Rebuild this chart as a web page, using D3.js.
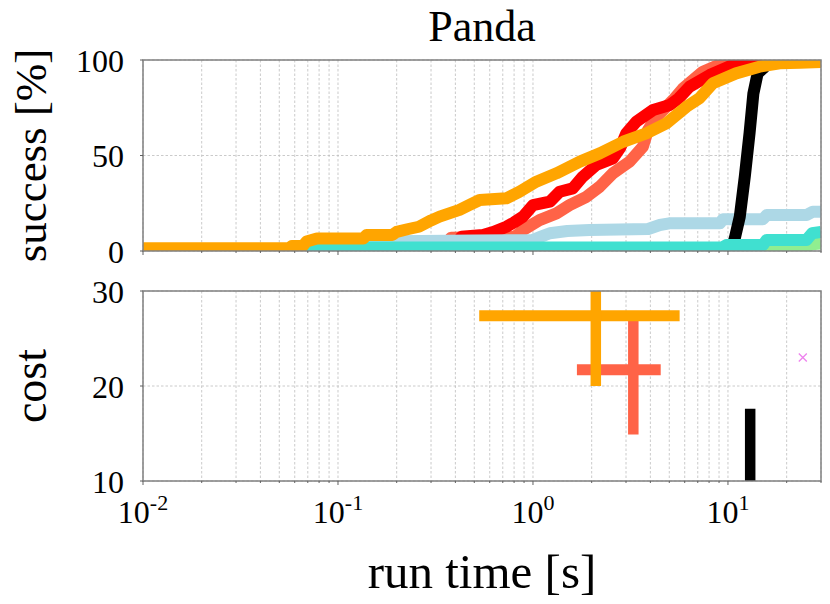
<!DOCTYPE html>
<html>
<head>
<meta charset="utf-8">
<script src="https://cdn.jsdelivr.net/npm/d3@7"></script>
<style>
  html, body { margin: 0; padding: 0; background: #fff; }
  svg { display: block; }
  text { font-family: "Liberation Serif", "DejaVu Serif", serif; fill: #000; }
</style>
</head>
<body>
<svg id="chart" width="830" height="604"></svg>
<script>
// ---------- data ----------
const xTickValues = [0.01, 0.1, 1, 10];
const xTickExponents = ["-2", "-1", "0", "1"];
const successTicks = [0, 50, 100];
const costTicks = [10, 20, 30];

// success curves (run time [s], success [%])
const lightgreenT = [0.01, 11, 12, 16, 25, 27, 30];
const lightgreenS = [0, 0, 0.5, 1, 2, 3.5, 4];

const tomatoT = [0.01, 0.1, 0.2, 0.3, 0.36, 0.38, 0.81, 0.889, 1.08, 1.32, 1.54, 1.88, 2.2, 2.57, 3.13, 3.66, 3.89, 4.3, 5.23, 5.87, 7.44, 9.4, 11, 30];
const tomatoS = [0, 1, 2, 3, 3.5, 7, 7.5, 11, 16.2, 19.7, 24, 28.4, 33.7, 40.7, 46.8, 54.6, 63.4, 70.3, 79, 85, 93.9, 98.3, 100, 100];

const redT = [0.01, 0.1, 0.2, 0.3, 0.4, 0.43, 0.554, 0.63, 0.73, 0.8, 0.889, 1.0, 1.22, 1.37, 1.6, 1.8, 2.11, 2.57, 2.8, 3.01, 3.39, 4.13, 5.03, 5.6, 6.35, 8.05, 10.6, 12.9, 14, 30];
const redS = [0, 1, 2, 3, 3.5, 7.5, 8.4, 10, 12.7, 15, 18, 24, 25.8, 31, 32.8, 38.9, 45, 48.5, 54, 61.6, 67.7, 73.8, 76.4, 80, 86, 92.1, 97.4, 99.5, 100, 100];

const lightblueT = [0.01, 0.075, 0.08, 0.1, 0.13, 0.14, 0.5, 1.0, 1.1, 1.22, 1.5, 1.95, 3.9, 4.47, 5, 9.1, 9.4, 15.1, 15.8, 25.3, 27.2, 30];
const lightblueS = [0, 0, 2, 3, 4, 5, 5.5, 5.8, 7.5, 9.3, 10.5, 11, 11.5, 13.6, 14.5, 14.5, 16.6, 16.6, 18.8, 18.8, 20.6, 20.6];

const blackT = [0.01, 10.2, 10.5, 10.8, 11.5, 12.2, 12.9, 13.5, 14.2, 15.1, 16, 17, 30];
const blackS = [0, 0, 3, 6, 18, 39, 61.6, 82.5, 93, 95.5, 98, 100, 100];

const turquoiseT = [0.01, 0.073, 0.076, 0.083, 9.4, 9.8, 15.1, 15.8, 25.3, 27, 30];
const turquoiseS = [0, 0, 1, 1.8, 2, 3.1, 3.1, 5.8, 5.8, 9.3, 10];

const orangeT = [0.01, 0.056, 0.058, 0.066, 0.069, 0.078, 0.135, 0.14, 0.19, 0.2, 0.23, 0.26, 0.3, 0.332, 0.42, 0.47, 0.533, 0.73, 0.85, 1.04, 1.32, 1.74, 2.2, 2.9, 3.81, 4.83, 6.12, 7.14, 8.37, 11, 14.5, 18.4, 23.4, 30];
const orangeS = [1.4, 1.4, 2.6, 2.6, 5, 6.6, 6.6, 8.4, 8.4, 10, 11.5, 12.7, 16, 18, 21.5, 24, 26.7, 27.6, 31, 36.3, 40.7, 46.8, 51.1, 57.2, 61.6, 66.8, 75.5, 80, 87.8, 93, 96.5, 98.3, 98.6, 99];

// drawing order: first is at the bottom
const curveColors = ["lightgreen", "tomato", "red", "lightblue", "black", "turquoise", "orange"];
const curveTimes = [lightgreenT, tomatoT, redT, lightblueT, blackT, turquoiseT, orangeT];
const curveSuccess = [lightgreenS, tomatoS, redS, lightblueS, blackS, turquoiseS, orangeS];

// cost error crosses
const crossColors = ["black", "tomato", "orange"];
const crossTimeMid = [13.0, 3.27, 2.1];
const crossTimeLo = [13.0, 1.68, 0.53];
const crossTimeHi = [13.0, 4.52, 5.65];
const crossCostMid = [13.0, 21.7, 27.4];
const crossCostLo = [8, 14.9, 20];
const crossCostHi = [17.6, 26.9, 31];

const markerColor = "violet";
const markerTime = [24.2];
const markerCost = [23];

// ---------- layout ----------
const svg = d3.select("#chart");
const left = 143, right = 821;
const top1 = 60, bot1 = 251;
const top2 = 291, bot2 = 481;

const x = d3.scaleLog().domain([0.01, 30]).range([left, right]);
const ySucc = d3.scaleLinear().domain([0, 100]).range([bot1, top1]);
const yCost = d3.scaleLinear().domain([10, 30]).range([bot2, top2]);

const minorTicks = [];
for (let e = -2; e <= 1; e++) {
  for (let m = 1; m <= 9; m++) {
    const v = m * Math.pow(10, e);
    if (v <= 30) minorTicks.push(v);
  }
}

const defs = svg.append("defs");
defs.append("clipPath").attr("id", "clip1").append("rect")
  .attr("x", left).attr("y", top1).attr("width", right - left).attr("height", bot1 - top1);
defs.append("clipPath").attr("id", "clip2").append("rect")
  .attr("x", left).attr("y", top2).attr("width", right - left).attr("height", bot2 - top2);

function panelGrid(yScale, yTicks, y0, y1) {
  const g = svg.append("g");
  g.selectAll("line.vg").data(minorTicks).enter().append("line")
    .attr("x1", d => x(d)).attr("x2", d => x(d))
    .attr("y1", y0).attr("y2", y1)
    .attr("stroke", "#bdbdbd").attr("stroke-width", 0.8)
    .attr("stroke-dasharray", "2.5,2");
  g.selectAll("line.hg").data(yTicks).enter().append("line")
    .attr("x1", left).attr("x2", right)
    .attr("y1", d => yScale(d)).attr("y2", d => yScale(d))
    .attr("stroke", "#bdbdbd").attr("stroke-width", 0.8)
    .attr("stroke-dasharray", "2.5,2");
}

function panelFrame(yScale, yTicks, y0, y1) {
  const g = svg.append("g");
  g.append("rect").attr("x", left).attr("y", y0)
    .attr("width", right - left).attr("height", y1 - y0)
    .attr("fill", "none").attr("stroke", "#808080").attr("stroke-width", 1.5);
  g.selectAll("line.mt").data(minorTicks).enter().append("line")
    .attr("x1", d => x(d)).attr("x2", d => x(d))
    .attr("y1", y1).attr("y2", d => xTickValues.includes(d) ? y1 + 4 : y1 + 2)
    .attr("stroke", "#606060").attr("stroke-width", 1);
  g.selectAll("line.yt").data(yTicks).enter().append("line")
    .attr("x1", left - 3).attr("x2", left)
    .attr("y1", d => yScale(d)).attr("y2", d => yScale(d))
    .attr("stroke", "#606060").attr("stroke-width", 1);
  g.selectAll("text.yl").data(yTicks).enter().append("text")
    .attr("x", 124).attr("y", d => yScale(d) + 11.5)
    .attr("text-anchor", "end").attr("font-size", 32)
    .text(d => d);
}

// ---------- top panel ----------
panelGrid(ySucc, successTicks, top1, bot1);
const line = d3.line().x(d => x(d[0])).y(d => ySucc(d[1]));
const cg = svg.append("g").attr("clip-path", "url(#clip1)");
curveColors.forEach((c, i) => {
  const pts = curveTimes[i].map((t, j) => [t, curveSuccess[i][j]]);
  cg.append("path").datum(pts)
    .attr("d", line)
    .attr("fill", "none").attr("stroke", c)
    .attr("stroke-width", 12)
    .attr("stroke-linejoin", "round").attr("stroke-linecap", "butt");
});
panelFrame(ySucc, successTicks, top1, bot1);

// ---------- bottom panel ----------
panelGrid(yCost, costTicks, top2, bot2);
const eg = svg.append("g").attr("clip-path", "url(#clip2)");
crossColors.forEach((c, i) => {
  if (crossTimeHi[i] > crossTimeLo[i]) {
    eg.append("line")
      .attr("x1", x(crossTimeLo[i])).attr("x2", x(crossTimeHi[i]))
      .attr("y1", yCost(crossCostMid[i])).attr("y2", yCost(crossCostMid[i]))
      .attr("stroke", c).attr("stroke-width", 11);
  }
  eg.append("line")
    .attr("x1", x(crossTimeMid[i])).attr("x2", x(crossTimeMid[i]))
    .attr("y1", yCost(crossCostLo[i])).attr("y2", yCost(crossCostHi[i]))
    .attr("stroke", c).attr("stroke-width", 10.5);
});
markerTime.forEach((t, i) => {
  const cx = x(t), cy = yCost(markerCost[i]), r = 4;
  eg.append("path")
    .attr("d", `M${cx - r},${cy - r}L${cx + r},${cy + r}M${cx - r},${cy + r}L${cx + r},${cy - r}`)
    .attr("stroke", markerColor).attr("stroke-width", 1.3).attr("fill", "none");
});
panelFrame(yCost, costTicks, top2, bot2);

// x tick labels
const xl = svg.append("g");
xTickValues.forEach((v, i) => {
  const t = xl.append("text").attr("x", x(v)).attr("y", 523)
    .attr("text-anchor", "middle").attr("font-size", 32);
  t.append("tspan").text("10");
  t.append("tspan").attr("font-size", 22).attr("dy", -13).text(xTickExponents[i]);
});

// titles and axis labels
svg.append("text").attr("x", (left + right) / 2).attr("y", 41)
  .attr("text-anchor", "middle").attr("font-size", 44).text("Panda");
svg.append("text").attr("x", (left + right) / 2).attr("y", 588)
  .attr("text-anchor", "middle").attr("font-size", 49).text("run time [s]");
svg.append("text")
  .attr("transform", `translate(46,${(top1 + bot1) / 2}) rotate(-90)`)
  .attr("text-anchor", "middle").attr("font-size", 45).text("success [%]");
svg.append("text")
  .attr("transform", `translate(46,${(top2 + bot2) / 2}) rotate(-90)`)
  .attr("text-anchor", "middle").attr("font-size", 46).text("cost");
</script>
</body>
</html>
